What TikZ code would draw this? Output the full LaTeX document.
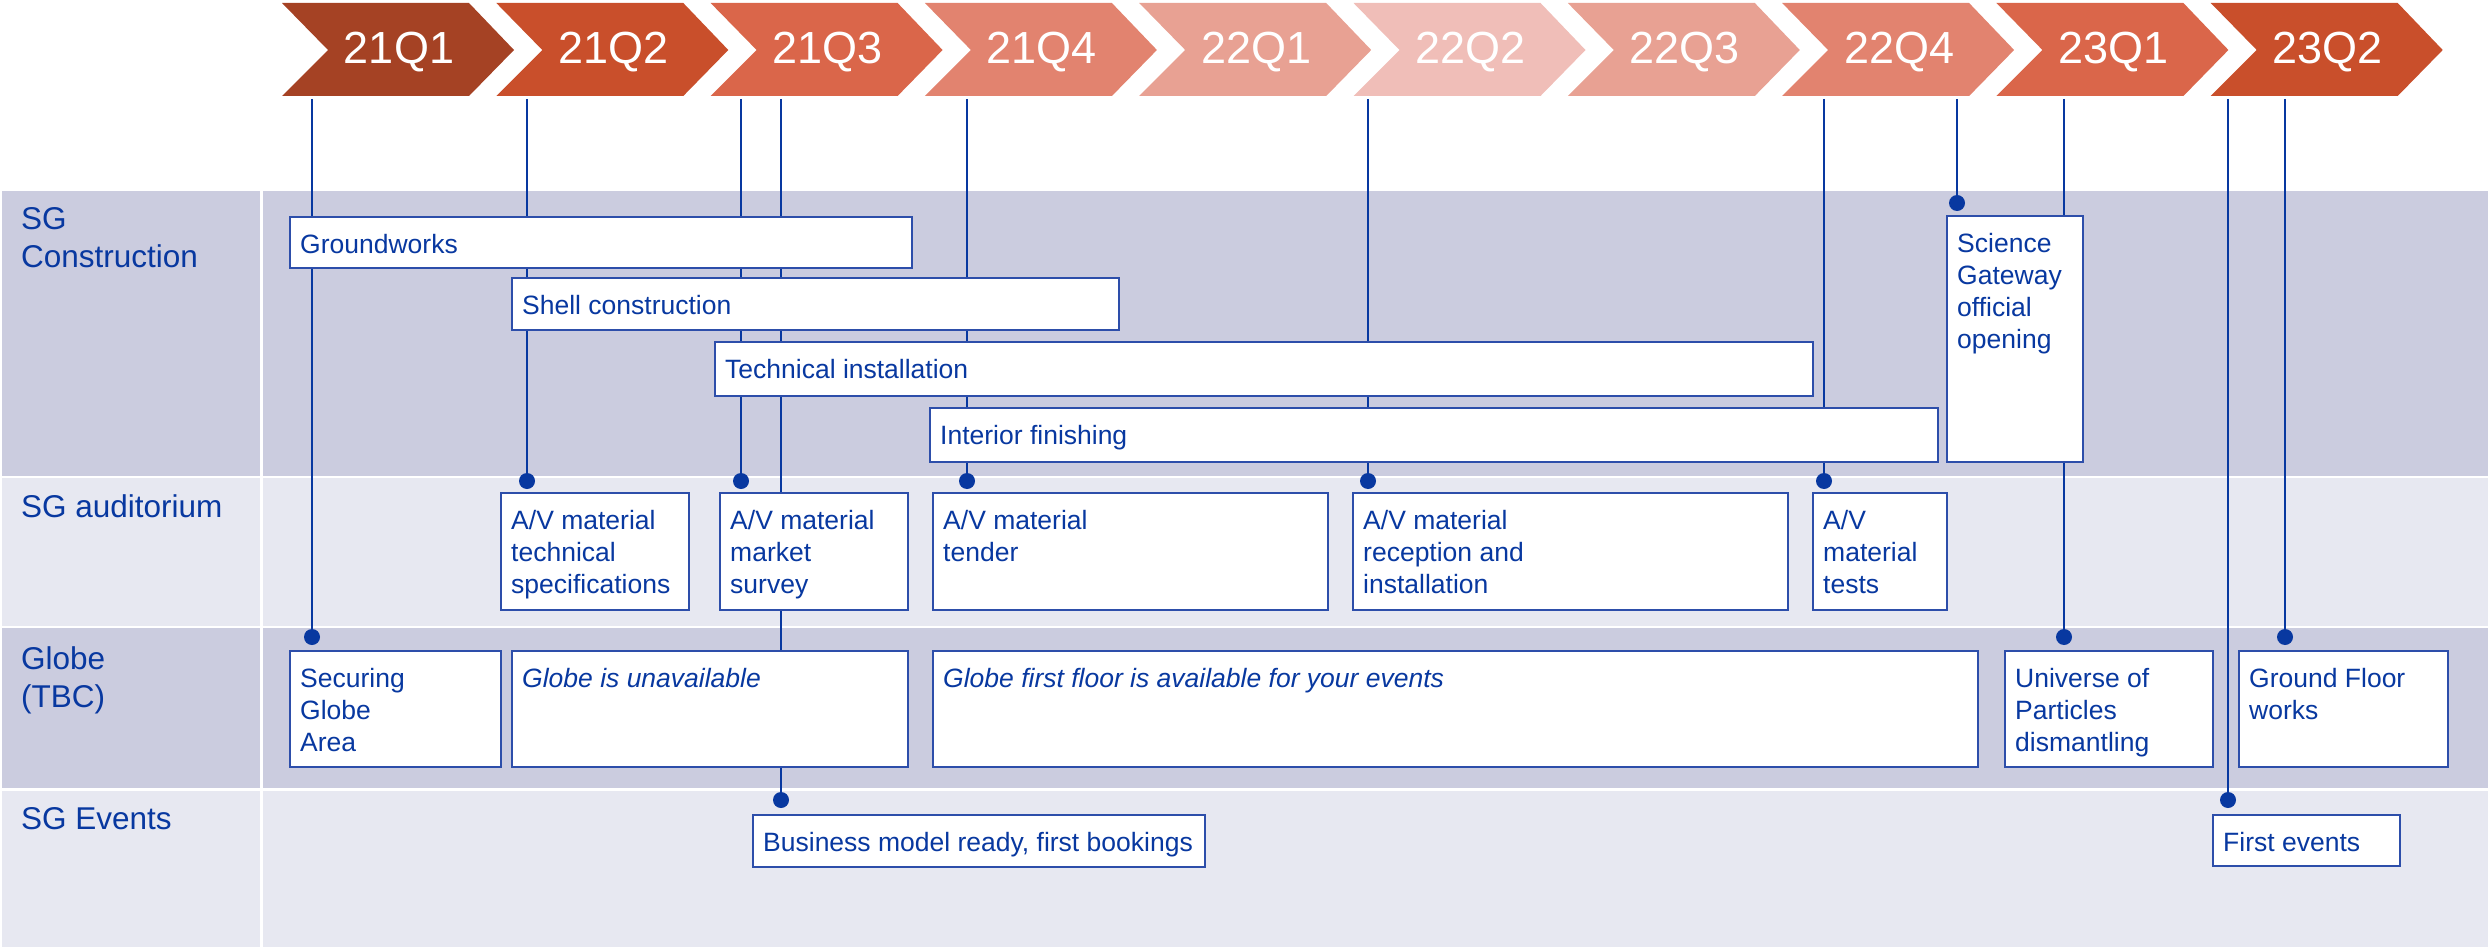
\documentclass[tikz,border=0pt]{standalone}
\usepackage{fontspec}
\setmainfont{Liberation Sans}

\definecolor{sgblue}{RGB}{8,56,160}
\definecolor{boxline}{RGB}{45,78,170}
\definecolor{banddark}{RGB}{203,204,223}
\definecolor{bandlight}{RGB}{231,232,241}
\definecolor{qa}{RGB}{165,66,36}
\definecolor{qb}{RGB}{201,79,43}
\definecolor{qc}{RGB}{218,102,74}
\definecolor{qd}{RGB}{226,131,111}
\definecolor{qe}{RGB}{232,161,147}
\definecolor{qf}{RGB}{240,190,184}

\tikzset{
  chevtext/.style={text=white, inner sep=0, anchor=base, font=\fontsize{45}{54}\selectfont},
  lane/.style={text=sgblue, inner sep=0, align=left, anchor=north west, font=\fontsize{31.5}{38}\selectfont},
  task/.style={draw=boxline, fill=white, line width=1.6pt, inner sep=0, outer sep=0, anchor=north west},
  tasktext/.style={text=sgblue, inner sep=0, align=left, anchor=north west, font=\fontsize{26.5}{32}\selectfont},
  mile/.style={circle, fill=sgblue, inner sep=0, minimum size=16pt},
  tl/.style={draw=sgblue, line width=2.5pt}
}

\begin{document}
\begin{tikzpicture}[x=1pt, y=-1pt]

  \useasboundingbox (0,0) rectangle (2488,947);

  % lanes
  \foreach \ya/\yb/\c in {191/476/banddark, 478/626/bandlight, 628/788/banddark, 791/947/bandlight} {
    \fill[\c] (2,\ya) rectangle (260,\yb);
    \fill[\c] (263,\ya) rectangle (2488,\yb);
  }
  \node[lane] (lcon) at (21,207) {SG\\Construction};
  \node[lane] (laud) at (21,494) {SG auditorium};
  \node[lane] (lglo) at (21,646) {Globe\\(TBC)};
  \node[lane] (lev)  at (21,807) {SG Events};

  % quarters
  \def \pitch {214.3}
  \foreach \q/\c [count=\i from 0] in {21Q1/qa, 21Q2/qb, 21Q3/qc, 21Q4/qd, 22Q1/qe,
                                       22Q2/qf, 22Q3/qe, 22Q4/qd, 23Q1/qc, 23Q2/qb} {
    \pgfmathsetmacro \l {282+\pitch*\i}
    \fill[\c] (\l,3) -- ++(187,0) -- ++(45,47) -- ++(-45,46) -- ++(-187,0) -- ++(46,-46) -- cycle;
    \node[chevtext] (q\i) at (\l+117,64) {\q};
  }

  % milestones
  \foreach \n/\x/\y in {sa/312/637, ts/527/481, ms/741/481, bm/781/800, td/967/481, ri/1368/481,
                        te/1824/481, so/1957/203, up/2064/637, fe/2228/800, gf/2285/637} {
    \coordinate (t-\n) at (\x,99);
    \node[mile] (m-\n) at (\x,\y) {};
    \draw[tl] (t-\n) -- (m-\n.center);
  }

  % tasks
  \foreach \n/\xa/\ya/\xb/\yb/\txt in {
      gw/290/217/912/268/{Groundworks},
      sc/512/278/1119/330/{Shell construction},
      ti/715/342/1813/396/{Technical installation},
      if/930/408/1938/462/{Interior finishing},
      so/1947/216/2083/462/{Science\\Gateway\\official\\opening},
      ts/501/493/689/610/{A/V material\\technical\\specifications},
      ms/720/493/908/610/{A/V material\\market\\survey},
      td/933/493/1328/610/{A/V material\\tender},
      ri/1353/493/1788/610/{A/V material\\reception and\\installation},
      te/1813/493/1947/610/{A/V\\material\\tests},
      sa/290/651/501/767/{Securing\\Globe\\Area},
      gu/512/651/908/767/{\itshape Globe is unavailable},
      ff/933/651/1978/767/{\itshape Globe first floor is available for your events},
      up/2005/651/2213/767/{Universe of\\Particles\\dismantling},
      gf/2239/651/2448/767/{Ground Floor\\works},
      bm/753/815/1205/867/{Business model ready, first bookings},
      fe/2213/815/2400/866/{First events}} {
    \node[task, minimum width={(\xb-\xa)*1pt}, minimum height={(\yb-\ya)*1pt}] (\n) at (\xa,\ya) {};
    \node[tasktext] (\n-t) at ([shift={(10,17)}]\n.north west) {\txt};
  }

\end{tikzpicture}
\end{document}
